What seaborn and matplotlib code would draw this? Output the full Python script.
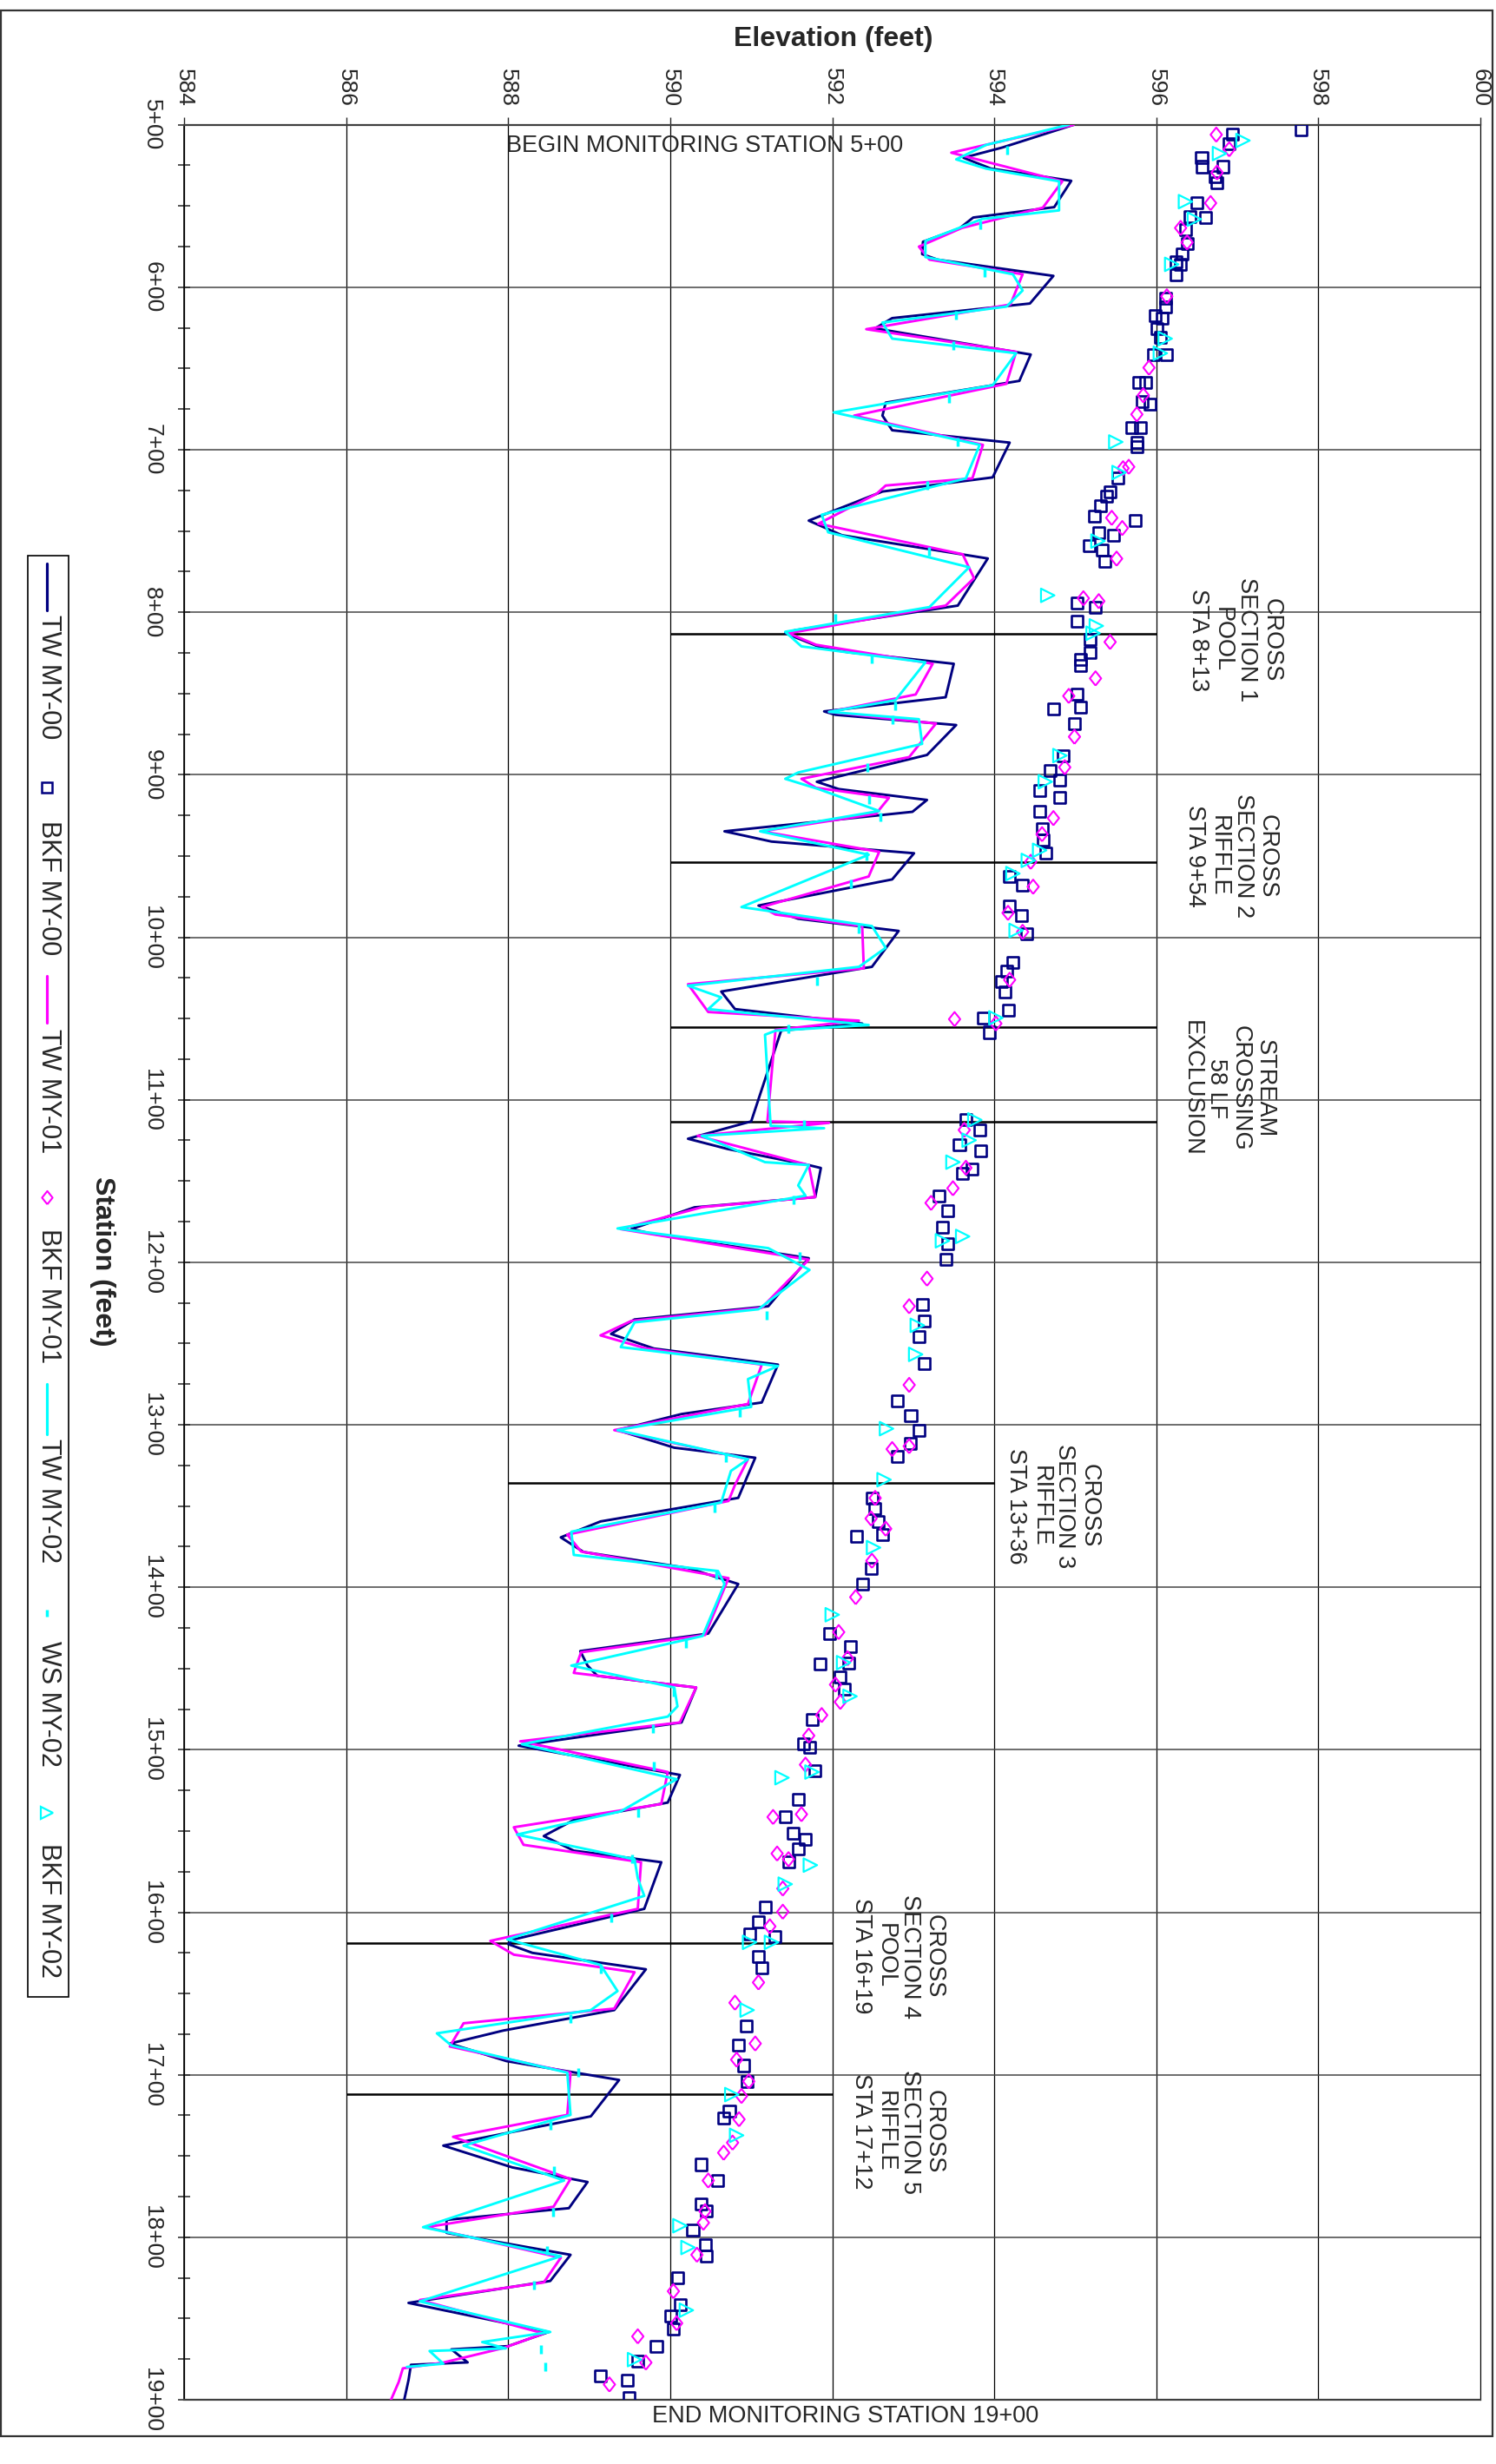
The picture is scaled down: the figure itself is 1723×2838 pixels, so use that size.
import numpy as np
import matplotlib
matplotlib.use("Agg")
import matplotlib.pyplot as plt
from matplotlib.patches import Rectangle
from matplotlib.lines import Line2D
import seaborn as sns

sns.set_style("white")
plt.rcParams["font.family"] = ["Liberation Sans", "DejaVu Sans"]

NAVY = "#000080"
MAGENTA = "#FF00FF"
CYAN = "#00FFFF"

# ---------------- Thalweg profiles (station ft, elevation ft) ----------------
tw00_sta = [500, 514, 520.3, 527, 534.5, 550.7, 557.1, 563.8, 572, 579.6, 583, 593, 610, 619, 625.3,
            641.4, 657.6, 671, 679, 688, 695.6, 717, 725.7, 743.6, 752.6, 766.9, 795.9, 811.1, 812.9,
            821.9, 824.6, 831.7, 852.3, 861, 863.1, 869.4, 887.8, 904.3, 908.8, 915.5, 922.8, 934.8,
            941.1, 948.3, 964.4, 980.5, 988.6, 996.1, 1018.2, 1033.4, 1044.2, 1053.1, 1057.4, 1113.3,
            1124, 1130.3, 1140.2, 1142, 1159.9, 1166.2, 1179.6, 1182.3, 1197.5, 1227.1, 1235.2, 1244.1,
            1253.1, 1263, 1286.3, 1293.4, 1303.3, 1314.1, 1320.3, 1345, 1359.5, 1369.3, 1378.3, 1388.2,
            1398, 1428.5, 1439.3, 1448.2, 1454.5, 1461.7, 1483.2, 1497.5, 1515.5, 1532.5, 1543.2,
            1553.1, 1562.1, 1569.2, 1597.9, 1616.7, 1619.6, 1625, 1635.1, 1660.2, 1672.8, 1680.8,
            1691.6, 1703.2, 1725.6, 1743.6, 1757, 1766, 1782.1, 1789.3, 1797.3, 1810.8, 1826.9,
            1840.4, 1858.3, 1867, 1869, 1877, 1878.5, 1888, 1904]
tw00_elev = [594.98, 594.1, 593.62, 593.96, 594.95, 594.74, 593.74, 593.57, 593.12, 593.11, 593.3, 594.73,
             594.44, 592.74, 592.53, 594.45, 594.31, 592.66, 592.62, 592.74, 594.19, 593.98, 592.62,
             591.71, 592.12, 593.92, 593.55, 591.54, 591.42, 591.87, 592.2, 593.5, 593.4, 591.9,
             592.04, 593.53, 593.17, 591.81, 592.08, 593.17, 592.99, 590.67, 591.25, 593.01, 592.74,
             591.09, 591.58, 592.82, 592.49, 590.63, 590.8, 592.37, 591.37, 591.0, 590.22, 590.71,
             591.71, 591.86, 591.79, 590.3, 589.52, 589.76, 591.71, 591.21, 589.56, 589.27, 589.8,
             591.33, 591.13, 590.14, 589.35, 590.05, 591.05, 590.84, 589.14, 588.65, 588.93, 590.22,
             590.84, 590.47, 588.89, 588.98, 589.1, 590.32, 590.14, 588.13, 590.12, 589.97, 588.81,
             588.44, 588.81, 589.89, 589.68, 588.07, 588.0, 588.3, 589.7, 589.31, 587.94, 587.28,
             587.98, 589.37, 589.02, 587.2, 588.05, 588.98, 588.75, 587.24, 587.24, 588.77, 588.52,
             586.77, 588.5, 588.0, 587.3, 587.5, 586.8, 586.77, 586.7]

tw01_sta = [500, 517.2, 534.8, 551, 563.5, 575, 583, 592, 610.6, 625.8, 639.7, 659.4, 679, 697, 717.6,
            722, 727, 745.5, 764.3, 779, 795.9, 812.9, 820, 831.7, 850.6, 861.3, 868.5, 889.1, 902.5,
            908, 914.2, 924, 934.8, 947.4, 962.6, 981.4, 986, 993.1, 1019.1, 1028.9, 1046, 1051.3, 1057,
            1113.3, 1114.2, 1122.2, 1140.2, 1159.9, 1166, 1179.6, 1198.4, 1228, 1236.1, 1245, 1253,
            1263, 1287.2, 1303.3, 1321.2, 1337, 1346.9, 1367.6, 1378, 1394.4, 1429.4, 1440, 1452.7,
            1461.7, 1483.2, 1494.8, 1513.7, 1533.4, 1547.7, 1558.5, 1569.2, 1597.9, 1617.6, 1626.1,
            1636.9, 1659.3, 1668.3, 1682.6, 1698.7, 1724.7, 1738.2, 1764.2, 1781.2, 1793.8, 1812.6,
            1827.8, 1838.6, 1859.2, 1868.2, 1877.1, 1880.7, 1889, 1900.5]
tw01_elev = [594.98, 593.47, 594.84, 594.6, 593.6, 593.07, 593.2, 594.35, 594.2, 592.42, 594.27, 594.15,
             592.27, 593.86, 593.73, 592.66, 592.55, 591.83, 593.61, 593.75, 593.4, 591.46, 591.8,
             593.24, 593.03, 591.96, 593.28, 592.95, 591.62, 591.8, 592.7, 592.54, 591.13, 592.58,
             592.45, 591.13, 591.3, 592.37, 592.39, 590.22, 590.47, 592.33, 591.3, 591.2, 591.96,
             590.34, 591.71, 591.79, 590.4, 589.39, 591.71, 591.13, 589.52, 589.14, 589.7, 591.13,
             590.96, 589.31, 590.96, 590.8, 590.72, 588.73, 588.9, 590.72, 590.43, 588.9, 588.81,
             590.32, 590.12, 588.15, 589.97, 589.89, 588.07, 588.19, 589.64, 589.6, 587.78, 588.07,
             589.56, 589.31, 587.45, 587.28, 588.77, 588.73, 587.32, 588.77, 588.56, 586.99, 588.65,
             588.44, 586.91, 588.44, 587.94, 587.2, 586.7, 586.65, 586.55]

tw02_sta = [500, 512.4, 521.3, 527, 534.8, 552.7, 558, 571.5, 581.4, 592, 602, 611.9, 621.7, 631.6,
            640.6, 660.3, 677, 697, 717.6, 740, 750.8, 772.3, 796.8, 812, 821, 830.8, 854.1, 861.3,
            865.8, 881, 898.6, 902.5, 908.8, 922.3, 934.8, 949.2, 981.4, 993.1, 1006.5, 1018.2,
            1029.8, 1037, 1044.2, 1054, 1057.5, 1060, 1116, 1117.5, 1122.2, 1138.4, 1140.2, 1152.7,
            1159, 1179.2, 1191.3, 1204.7, 1228.9, 1237, 1252.2, 1263.9, 1271.9, 1289, 1303.3, 1321.2,
            1328.4, 1347.8, 1365.8, 1380.1, 1390, 1398, 1430, 1448.2, 1461.7, 1473.3, 1479.6, 1496.6,
            1518.1, 1537.9, 1552.2, 1567.4, 1579.1, 1589.9, 1616.7, 1632.4, 1648.5, 1660.2, 1674.5,
            1682, 1698.7, 1724.7, 1743.6, 1765.1, 1793.8, 1811.7, 1839.5, 1858.3, 1864.5, 1868.4,
            1870, 1877.8, 1879.8]
tw02_elev = [594.92, 593.9, 593.53, 593.9, 594.8, 594.8, 593.85, 593.15, 593.15, 594.23, 594.35, 594.15,
             592.62, 592.74, 594.27, 593.98, 592.02, 593.82, 593.65, 591.87, 591.95, 593.69, 593.2,
             591.42, 591.62, 593.15, 592.78, 591.96, 593.07, 593.11, 591.58, 591.42, 591.83, 592.58,
             591.11, 592.45, 590.88, 592.49, 592.66, 592.33, 590.22, 590.63, 590.47, 592.45, 591.3,
             591.17, 591.24, 591.9, 590.39, 591.17, 591.71, 591.58, 591.67, 589.35, 591.21, 591.72,
             591.09, 589.56, 589.39, 591.33, 590.96, 591.0, 589.35, 590.96, 590.75, 590.63, 588.78,
             588.81, 590.59, 590.67, 590.4, 588.78, 590.05, 590.09, 589.97, 588.17, 590.08, 589.39,
             588.11, 589.56, 589.6, 589.68, 587.99, 589.14, 589.35, 589.02, 587.12, 587.3, 588.73,
             588.77, 587.45, 588.69, 586.95, 588.65, 586.91, 588.52, 587.68, 587.97, 587.03, 587.2,
             586.75]

# ---------------- Water surface MY-02 ----------------
ws02_sta = [515.4, 561.7, 591.2, 617.2, 636, 668.3, 695.2, 722.1, 762.5, 803.9, 829, 857.7, 866.2, 895.4,
            915.1, 925.9, 950.1, 967.1, 994.9, 1027.1, 1056.4, 1115.1, 1161.7, 1196.6, 1232.5, 1292.5,
            1320.3, 1351.4, 1392.6, 1434.8, 1464.4, 1486.8, 1510.1, 1538.8, 1567.4, 1603.3, 1635.1,
            1665.6, 1698.7, 1731, 1758.8, 1784.8, 1808.1, 1829.6, 1869.1, 1879.8]
ws02_elev = [594.16, 593.83, 593.88, 593.53, 593.5, 593.44, 593.55, 593.17, 593.2, 592.04, 592.49, 592.78,
             592.74, 592.43, 592.46, 592.6, 592.42, 592.23, 592.33, 591.81, 591.46, 591.65, 591.52,
             591.6, 591.19, 590.86, 590.69, 590.55, 590.57, 590.19, 590.04, 589.79, 589.8, 589.6,
             589.53, 589.27, 589.14, 588.77, 588.87, 588.52, 588.56, 588.55, 588.48, 588.32, 588.4,
             588.46]

# ---------------- Bankfull points ----------------
bkf00_sta = [503, 506, 511.5, 520.4, 525.8, 525.8, 532, 535.7, 548.2, 556.3, 557.2, 564.4, 573.3, 579.6,
             584.1, 585.9, 592.1, 606.5, 611.9, 617.2, 619, 625.3, 630.7, 641.4, 641.4, 658.5, 658.5,
             670.1, 671.9, 686.3, 686.3, 695.2, 697.9, 717.6, 725.7, 728.4, 734.7, 740.9, 743.6, 750.8,
             752.6, 758.9, 761.5, 768.7, 794.1, 796.8, 805.4, 816.5, 824.6, 829, 832.6, 850.6, 858.6,
             859.5, 868.8, 888.2, 897.2, 903.4, 909.7, 914.2, 922.3, 933, 940.2, 948.3, 962.6, 968,
             980.5, 986.8, 997.6, 1015.5, 1020.9, 1027.1, 1033.4, 1045.1, 1049.6, 1058.5, 1112.4,
             1118.6, 1127.6, 1131.2, 1142.8, 1145.5, 1159, 1168.5, 1178.7, 1188.6, 1198.4, 1226.2,
             1236.1, 1245.9, 1262.1, 1285.4, 1294.3, 1303.3, 1311.4, 1319.4, 1345.1, 1351.4, 1359.5,
             1367.6, 1368.4, 1388.2, 1398, 1428.5, 1436.6, 1446.4, 1447.3, 1455.4, 1462.6, 1481.4,
             1496.6, 1498.4, 1512.8, 1530.7, 1541.4, 1551.3, 1554.9, 1561.2, 1569.2, 1597, 1606,
             1613.2, 1615, 1627, 1634.2, 1670.1, 1681.7, 1694.3, 1704.1, 1722.1, 1726.5, 1755.2,
             1765.1, 1779.4, 1784, 1795.6, 1804.5, 1811.7, 1825.1, 1841.3, 1848.4, 1856.5, 1867.3,
             1876.2, 1885.2, 1887.9, 1898.6]
bkf00_elev = [597.79, 596.94, 596.9, 596.56, 596.57, 596.82, 596.73, 596.75, 596.5, 596.42, 596.61,
              596.36, 596.38, 596.32, 596.24, 596.3, 596.24, 596.12, 596.12, 595.99, 596.07, 596.01,
              596.05, 595.97, 596.13, 595.78, 595.87, 595.83, 595.92, 595.7, 595.8, 595.76, 595.76,
              595.53, 595.43, 595.39, 595.31, 595.24, 595.74, 595.29, 595.47, 595.17, 595.33, 595.36,
              595.02, 595.25, 595.02, 595.18, 595.18, 595.07, 595.07, 595.02, 595.06, 594.73, 594.99,
              594.85, 594.69, 594.81, 594.56, 594.81, 594.56, 594.59, 594.6, 594.64, 594.19, 594.35,
              594.19, 594.34, 594.4, 594.23, 594.15, 594.09, 594.13, 594.18, 593.86, 593.94, 593.65,
              593.82, 593.57, 593.83, 593.73, 593.61, 593.32, 593.43, 593.36, 593.43, 593.4, 593.11,
              593.14, 593.07, 593.14, 592.8, 592.97, 593.07, 592.96, 592.8, 592.49, 592.52, 592.57,
              592.62, 592.3, 592.48, 592.37, 591.97, 592.23, 592.2, 591.85, 592.1, 592.15, 591.75,
              591.65, 591.72, 591.79, 591.58, 591.42, 591.52, 591.67, 591.58, 591.46, 591.17, 591.09,
              590.98, 591.29, 591.09, 591.13, 590.94, 590.84, 590.91, 590.95, 590.73, 590.66, 590.38,
              590.59, 590.38, 590.45, 590.28, 590.44, 590.45, 590.09, 590.12, 590.01, 590.04, 589.83,
              589.6, 589.14, 589.47, 589.49]

bkf01_sta = [506.1, 515.1, 529.4, 548.2, 563.5, 572.4, 605.6, 649.5, 666.5, 678.2, 710.5, 711.4, 741.9,
             748.2, 767, 791.4, 793.2, 818.3, 840.7, 851.5, 876.6, 895.4, 926.7, 936.6, 953.6, 968.9,
             985, 996.7, 1026.2, 1050.4, 1053.1, 1118.6, 1141.9, 1154.5, 1163.5, 1210.1, 1227.1,
             1275.5, 1313.2, 1315, 1345.1, 1357.7, 1364, 1383.7, 1406.1, 1427.6, 1443.7, 1459.9,
             1470.6, 1478.7, 1491.3, 1509.2, 1539.7, 1541.4, 1563.9, 1567.4, 1585.4, 1599.7, 1608.7,
             1643.2, 1655.7, 1680.8, 1690.7, 1704.1, 1713.1, 1727.4, 1741.8, 1748, 1765.1, 1784,
             1791.1, 1810.8, 1833.2, 1852.9, 1861, 1877.1, 1890.6]
bkf01_elev = [596.74, 596.9, 596.75, 596.67, 596.3, 596.38, 596.13, 595.91, 595.84, 595.76, 595.66,
              595.59, 595.45, 595.58, 595.51, 595.1, 595.29, 595.43, 595.25, 594.92, 594.99, 594.87,
              594.73, 594.59, 594.45, 594.48, 594.17, 594.35, 594.19, 593.51, 594.02, 593.63, 593.65,
              593.49, 593.22, 593.17, 592.95, 592.95, 592.95, 592.74, 592.53, 592.48, 592.66, 592.49,
              592.29, 592.08, 592.19, 592.04, 592.1, 591.87, 591.71, 591.67, 591.62, 591.27, 591.32,
              591.46, 591.39, 591.39, 591.23, 591.09, 590.8, 591.05, 590.82, 590.97, 590.88, 590.85,
              590.77, 590.66, 590.47, 590.43, 590.41, 590.33, 590.04, 590.08, 589.6, 589.7, 589.25]

bkf02_sta = [509.7, 517.7, 547.3, 558.1, 585.9, 631.6, 640.6, 695.2, 714, 756.2, 789.6, 808.4, 812.9,
             888.2, 904.3, 946.5, 952.7, 960.8, 995.8, 1049.6, 1112.4, 1124.9, 1138.4, 1184.1, 1186.8,
             1238.8, 1256.7, 1302.4, 1333.8, 1375.6, 1416.9, 1446.4, 1467.1, 1513.7, 1517.2, 1571,
             1582.7, 1618.5, 1618.5, 1660.2, 1712.2, 1737.3, 1792.9, 1806.3, 1844.9, 1875.3]
bkf02_elev = [597.07, 596.78, 596.36, 596.47, 596.19, 596.11, 596.05, 595.5, 595.54, 595.28, 594.66,
              595.26, 595.22, 594.81, 594.63, 594.56, 594.42, 594.23, 594.27, 594.02, 593.76, 593.69,
              593.49, 593.61, 593.36, 593.05, 593.03, 592.67, 592.64, 592.51, 592.0, 592.14, 592.22,
              591.75, 591.38, 591.73, 591.42, 590.98, 591.25, 590.95, 590.76, 590.82, 590.12, 590.22,
              590.2, 589.56]

# ---------------- Axes ticks and annotations ----------------
elev_ticks = [584, 586, 588, 590, 592, 594, 596, 598, 600]
sta_ticks = [500, 600, 700, 800, 900, 1000, 1100, 1200, 1300, 1400, 1500, 1600, 1700, 1800, 1900]
sta_labels = ["5+00", "6+00", "7+00", "8+00", "9+00", "10+00", "11+00", "12+00", "13+00",
              "14+00", "15+00", "16+00", "17+00", "18+00", "19+00"]

xs_labels = ["CROSS\nSECTION 1\nPOOL\nSTA 8+13",
             "CROSS\nSECTION 2\nRIFFLE\nSTA 9+54",
             "STREAM\nCROSSING\n58 LF\nEXCLUSION",
             "CROSS\nSECTION 3\nRIFFLE\nSTA 13+36",
             "CROSS\nSECTION 4\nPOOL\nSTA 16+19",
             "CROSS\nSECTION 5\nRIFFLE\nSTA 17+12"]
xs_text_sta = [817, 950, 1093, 1350, 1627, 1735]
xs_text_elev = [596.38, 596.33, 596.30, 594.13, 592.22, 592.22]
marker_line_sta = [813, 954, 1055.5, 1113.5, 1336, 1619, 1712]
marker_line_lo = [590, 590, 590, 590, 588, 586, 586]
marker_line_hi = [596, 596, 596, 596, 594, 592, 592]

# ---------------- Figure layout ----------------
W, H, DPI = 1723, 2838, 100
fig = plt.figure(figsize=(W / DPI, H / DPI), dpi=DPI)


def fx(px):
    return px / W


def fy(py):
    return 1 - py / H


ax = fig.add_axes([fx(212), fy(2764), fx(1705) - fx(212), fy(143.7) - fy(2764)])
ax.set_xlim(584, 600)
ax.set_ylim(1900, 500)

# grid
ax.set_xticks(elev_ticks)
ax.set_yticks(sta_ticks)
ax.set_yticks(np.arange(500, 1901, 25), minor=True)
ax.grid(axis="x", which="major", color="black", lw=0.9, zorder=0)
ax.grid(axis="y", which="major", color="#454545", lw=1.1, zorder=0)
ax.set_axisbelow(True)

# cross-section marker lines
for s, lo, hi in zip(marker_line_sta, marker_line_lo, marker_line_hi):
    ax.plot([lo, hi], [s, s], color="black", lw=1.8, zorder=1.5, solid_capstyle="butt")

# thalweg profiles and survey points
sns.lineplot(x=tw00_elev, y=tw00_sta, sort=False, estimator=None, orient="y",
             color=NAVY, lw=2.1, ax=ax, zorder=3)
sns.scatterplot(x=bkf00_elev, y=bkf00_sta, marker="s", s=88, color=NAVY,
                facecolor="none", edgecolor=NAVY, linewidth=1.9, ax=ax, zorder=4)
sns.lineplot(x=tw01_elev, y=tw01_sta, sort=False, estimator=None, orient="y",
             color=MAGENTA, lw=2.1, ax=ax, zorder=5)
diamond = np.array([(0, -1), (0.8, 0), (0, 1), (-0.8, 0), (0, -1)])
sns.scatterplot(x=bkf01_elev, y=bkf01_sta, marker=diamond, s=140, color=MAGENTA,
                facecolor="none", edgecolor=MAGENTA, linewidth=1.5, ax=ax, zorder=6)
sns.lineplot(x=tw02_elev, y=tw02_sta, sort=False, estimator=None, orient="y",
             color=CYAN, lw=2.1, ax=ax, zorder=7)
sns.scatterplot(x=ws02_elev, y=ws02_sta, marker="|", s=42, color=CYAN,
                linewidth=2.5, ax=ax, zorder=8)
sns.scatterplot(x=bkf02_elev, y=bkf02_sta, marker=">", s=125, color=CYAN,
                facecolor="none", edgecolor=CYAN, linewidth=1.6, ax=ax, zorder=9)

# ticks
ax.xaxis.tick_top()
ax.set_xticklabels([str(v) for v in elev_ticks], rotation=-90, fontsize=19)
ax.tick_params(axis="x", which="major", direction="out", length=6.2, width=1.0, pad=9,
               top=True, bottom=False, labeltop=True, labelbottom=False)
ax.set_yticklabels(sta_labels, rotation=-90, fontsize=19)
for t in ax.get_yticklabels():
    t.set_va("center")
ax.tick_params(axis="y", which="both", direction="inout", length=9.5, width=1.1, pad=13,
               left=True, right=False)
ax.set_xlabel("")
ax.set_ylabel("")

for side in ("top", "bottom"):
    ax.spines[side].set_color("#404040")
    ax.spines[side].set_linewidth(1.6)
ax.spines["left"].set_color("black")
ax.spines["left"].set_linewidth(1.2)
ax.spines["right"].set_color("black")
ax.spines["right"].set_linewidth(0.8)

# annotations
ax.text(590.43, 513, "BEGIN MONITORING STATION 5+00", ha="center", va="center", fontsize=19.5)
ax.text(592.16, 1910, "END MONITORING STATION 19+00", ha="center", va="center",
        fontsize=19.5, clip_on=False)
for lab, s, e in zip(xs_labels, xs_text_sta, xs_text_elev):
    ax.text(e, s, lab, rotation=-90, ha="left", va="center", multialignment="center",
            fontsize=19.5, linespacing=1.1)

# axis titles
fig.text(fx(960), fy(45), "Elevation (feet)", ha="center", va="center",
         fontsize=23, fontweight="bold")
fig.text(fx(118), fy(1453), "Station (feet)", rotation=-90, ha="center", va="center",
         fontsize=23, fontweight="bold")

# legend (vertical, rotated text)
fig.add_artist(Rectangle((fx(32), fy(2300)), fx(79) - fx(32), fy(640) - fy(2300),
                         transform=fig.transFigure, fill=False, ec="black", lw=1.2))
lx = fx(54)
fig.add_artist(Line2D([lx, lx], [fy(649), fy(703)], transform=fig.transFigure, color=NAVY, lw=2.3))
fig.add_artist(Line2D([lx], [fy(907)], transform=fig.transFigure, marker="s", ms=8.4,
                      mfc="none", mec=NAVY, mew=1.8, ls=""))
fig.add_artist(Line2D([lx, lx], [fy(1124), fy(1178)], transform=fig.transFigure, color=MAGENTA, lw=2.3))
fig.add_artist(Line2D([lx], [fy(1379)], transform=fig.transFigure, marker=diamond, ms=11,
                      mfc="none", mec=MAGENTA, mew=1.5, ls=""))
fig.add_artist(Line2D([lx, lx], [fy(1594), fy(1652)], transform=fig.transFigure, color=CYAN, lw=2.3))
fig.add_artist(Line2D([lx], [fy(1858)], transform=fig.transFigure, marker="|", ms=6,
                      mec=CYAN, mew=2.5, ls=""))
fig.add_artist(Line2D([lx], [fy(2088)], transform=fig.transFigure, marker=">", ms=10.5,
                      mfc="none", mec=CYAN, mew=1.6, ls=""))
legend_names = ["TW MY-00", "BKF MY-00", "TW MY-01", "BKF MY-01", "TW MY-02", "WS MY-02", "BKF MY-02"]
legend_text_y = [708, 945, 1185, 1415, 1657, 1890, 2123]
for name, yy in zip(legend_names, legend_text_y):
    fig.text(fx(56), fy(yy), name, rotation=-90, ha="center", va="top", fontsize=22)

# outer frame
fig.add_artist(Rectangle((fx(1), fy(2806)), fx(1719) - fx(1), fy(12) - fy(2806),
                         transform=fig.transFigure, fill=False, ec="#333333", lw=1.6))

fig.savefig("out.png", dpi=DPI)
